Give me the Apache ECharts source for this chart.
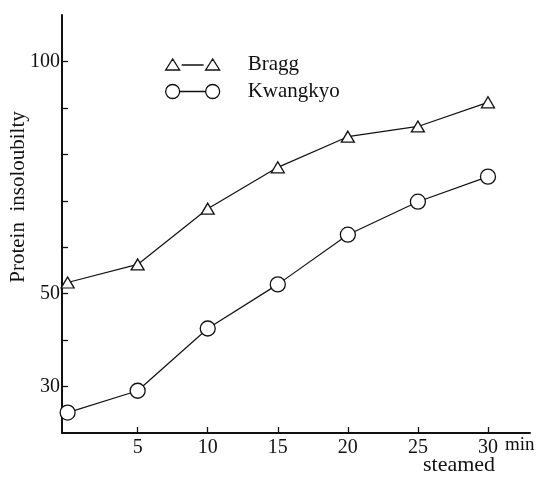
<!DOCTYPE html>
<html>
  <head>
    <meta http-equiv="Content-Type" content="text/html; charset=UTF-8">
    <title></title>
    <script src="https://cdn.jsdelivr.net/npm/echarts@6/dist/echarts.min.js" charset="utf-8"></script>
    <style type="text/css">
      * {margin: 0; padding: 0;}
      body {background: #fff;}
    </style>
  </head>
  <body>
    <div id="chart" style="width:539px;height:478px"></div>

    <script type="text/javascript">
      // minutes steamed
      var minutes = [0, 5, 10, 15, 20, 25, 30];
      // protein insolubility
      var bragg = [52.4, 56.3, 68.3, 77.2, 83.8, 86.0, 91.2];
      var kwangkyo = [24.4, 29.1, 42.5, 52.0, 62.7, 69.8, 75.2];
      var xTicks = [5, 10, 15, 20, 25, 30];
      var yTicks = [30, 40, 50, 60, 70, 80, 90, 100];
      var yLabels = [30, 50, 100];

      var serif = 'Liberation Serif';

      // marker - line - marker, like the hand drawn key
      var triIcon = 'path://M0 12 L7 1 L14 12 Z M16 7 L38 7 M40 12 L47 1 L54 12 Z';
      var circIcon = 'path://M0 7 A7 7 0 1 0 14 7 A7 7 0 1 0 0 7 Z M14 7 L40 7 M40 7 A7 7 0 1 0 54 7 A7 7 0 1 0 40 7 Z';

      function pairs(xs, ys) {
        var res = [];
        for (var i = 0; i < xs.length; i++) {
          res.push([xs[i], ys[i]]);
        }
        return res;
      }

      var chart = echarts.init(document.getElementById('chart'));

      var option = {
        backgroundColor: '#fff',
        animation: false,
        grid: {left: 62, right: 9, top: 15, bottom: 45, outerBoundsMode: 'none', containLabel: false},
        legend: {
          orient: 'vertical',
          left: 160,
          top: 49,
          itemWidth: 54,
          itemHeight: 14,
          itemGap: 6,
          selectedMode: false,
          itemStyle: {color: '#fff', borderColor: '#111', borderWidth: 1.3},
          textStyle: {fontFamily: serif, fontSize: 21, color: '#111', padding: [0, 0, 0, 23]},
          data: [
            {name: 'Bragg', icon: triIcon},
            {name: 'Kwangkyo', icon: circIcon}
          ]
        },
        xAxis: {
          type: 'value',
          min: -0.4,
          max: 33,
          splitLine: {show: false},
          axisLine: {onZero: false, lineStyle: {color: '#111', width: 2}},
          axisTick: {inside: true, length: 6, customValues: xTicks, lineStyle: {color: '#111', width: 1.3}},
          axisLabel: {customValues: xTicks, margin: 5, fontFamily: serif, fontSize: 20, color: '#111'}
        },
        yAxis: {
          type: 'value',
          min: 20,
          max: 110,
          name: 'Protein  insoloubilty',
          nameLocation: 'middle',
          nameGap: 33,
          nameMoveOverlap: false,
          nameTextStyle: {fontFamily: serif, fontSize: 21, color: '#111', padding: [0, 0, 0, 54]},
          splitLine: {show: false},
          axisLine: {onZero: false, lineStyle: {color: '#111', width: 2}},
          axisTick: {inside: true, length: 6, customValues: yTicks, lineStyle: {color: '#111', width: 1.3}},
          axisLabel: {customValues: yLabels, margin: 2, fontFamily: serif, fontSize: 20, color: '#111'}
        },
        graphic: [
          {type: 'text', left: 505, top: 436, style: {text: 'min', font: '19px "Liberation Serif"', fill: '#111'}},
          {type: 'text', left: 423, top: 454, style: {text: 'steamed', font: '22px "Liberation Serif"', fill: '#111'}}
        ],
        series: [
          {
            name: 'Bragg',
            type: 'line',
            data: pairs(minutes, bragg),
            symbol: 'triangle',
            symbolSize: [13, 11],
            clip: false,
            lineStyle: {color: '#111', width: 1.2},
            itemStyle: {color: '#fff', borderColor: '#111', borderWidth: 1.3}
          },
          {
            name: 'Kwangkyo',
            type: 'line',
            data: pairs(minutes, kwangkyo),
            symbol: 'circle',
            symbolSize: 15,
            clip: false,
            lineStyle: {color: '#111', width: 1.2},
            itemStyle: {color: '#fff', borderColor: '#111', borderWidth: 1.3}
          }
        ]
      };

      chart.setOption(option);
    </script>
  </body>
</html>
